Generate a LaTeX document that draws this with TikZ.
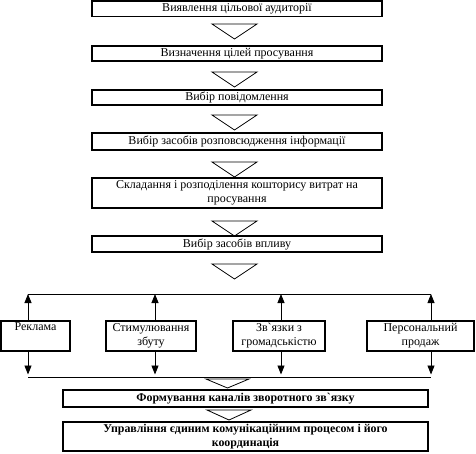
\documentclass[tikz,border=0pt]{standalone}
\usepackage{fontspec}
\setmainfont{Liberation Serif}[Ligatures=TeXOff]
\usetikzlibrary{arrows.meta}
\begin{document}
\begin{tikzpicture}[x=1pt,y=-1pt,
  txt/.style={font=\fontsize{12}{14}\selectfont},
  mainbox/.style={draw,line width=1.5pt,inner sep=0pt,minimum width=290pt,align=center,txt},
  lowbox/.style={draw,line width=1.5pt,inner sep=0pt,minimum width=365pt,align=center,font=\fontsize{11.9}{13.5}\selectfont\bfseries},
  smallbox/.style={draw,line width=1.3pt,inner sep=0pt,minimum height=30pt,align=center,txt},
  tri/.style={draw,line width=0.8pt,line join=miter},
  link/.style={line width=0.8pt},
  arr/.style={line width=0.8pt,-{Triangle[length=9pt,width=7pt]}}]
\useasboundingbox (0,0) rectangle (476,453);
% main chain
\node[mainbox,minimum height=15.5pt] (b1) at (237,8.5) {Виявлення цільової аудиторії};
\node[mainbox,minimum height=15pt] (b2) at (237,53.5) {Визначення цілей просування};
\node[mainbox,minimum height=15pt] (b3) at (237,97.5) {Вибір повідомлення};
\node[mainbox,minimum height=17pt] (b4) at (237,141.5) {Вибір засобів розповсюдження інформації};
\node[mainbox,minimum height=30pt] (b5) at (237,193) {Складання і розподілення кошторису витрат на\\просування};
\node[mainbox,minimum height=16pt] (b6) at (237,244) {Вибір засобів впливу};
% triangles
\foreach \ty in {24,72,115,162,221,264}
  \draw[tri] (212,\ty) -- (257,\ty) -- (234.5,\ty+15) -- cycle;
% distribution lines
\coordinate (u1) at (28,294);
\coordinate (u2) at (155,294);
\coordinate (u3) at (281,294);
\coordinate (u4) at (431,294);
\coordinate (d1) at (28,377);
\coordinate (d2) at (155,377);
\coordinate (d3) at (281,377);
\coordinate (d4) at (431,377);
\draw[link] (u1) -- (u4);
\draw[link] (d1) -- (d4);
% instrument boxes
\node[smallbox,minimum width=69pt] (r) at (35.5,336) {Реклама\\\strut};
\node[smallbox,minimum width=90pt] (s) at (151,336) {Стимулювання\\збуту};
\node[smallbox,minimum width=92pt] (z) at (279,336) {Зв`язки з\\громадськістю};
\node[smallbox,minimum width=107pt] (p) at (420.5,336) {Персональний\\продаж};
\foreach \b/\n in {r/1,s/2,z/3,p/4}{
  \draw[arr] (u\n |- \b.north) -- (u\n);
  \draw[arr,shorten >=2.5pt] (d\n |- \b.south) -- (d\n);
}
% lower chain
\draw[tri] (206,379) -- (249,379) -- (227.5,388) -- cycle;
\node[lowbox,minimum height=17pt] (b7) at (245.5,398.5) {Формування каналів зворотного зв`язку};
\draw[tri] (207,410) -- (251,410) -- (229,420) -- cycle;
\node[lowbox,minimum height=29pt] (b8) at (245.5,436.5) {Управління єдиним комунікаційним процесом і його\\координація};
\end{tikzpicture}
\end{document}
